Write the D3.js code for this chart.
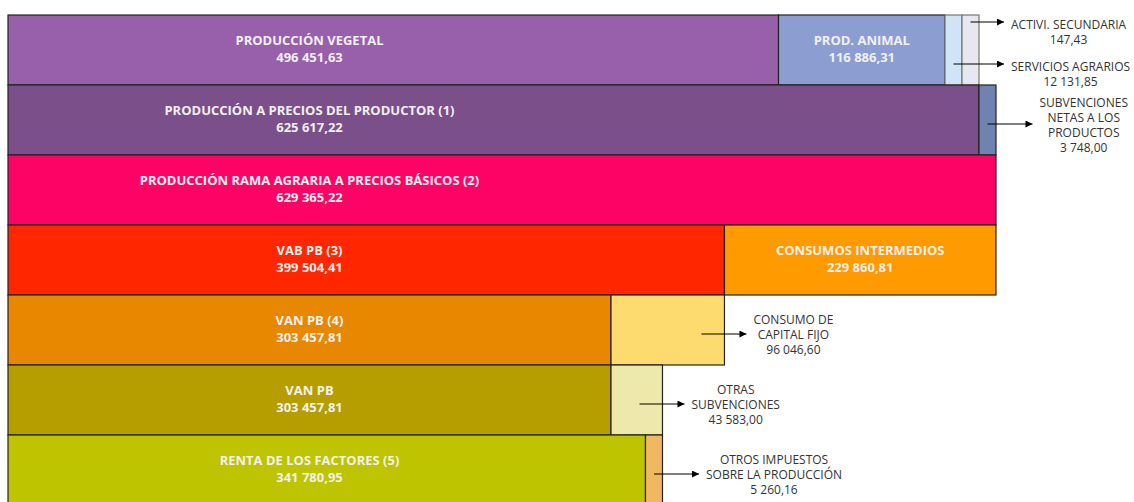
<!DOCTYPE html>
<html>
<head>
<meta charset="utf-8">
<script src="https://cdn.jsdelivr.net/npm/d3@7"></script>
<style>
  body { margin: 0; background: #fff; }
  svg { display: block; font-family: "Open Sans", "Noto Sans", sans-serif; }
</style>
</head>
<body>
<svg width="1134" height="502"></svg>
<script>
// one row per level of the account, segments left to right
const segNames = [
  ["PRODUCCIÓN VEGETAL", "PROD. ANIMAL", "SERVICIOS AGRARIOS", "ACTIVI. SECUNDARIA"],
  ["PRODUCCIÓN A PRECIOS DEL PRODUCTOR (1)", "SUBVENCIONES\nNETAS A LOS\nPRODUCTOS"],
  ["PRODUCCIÓN RAMA AGRARIA A PRECIOS BÁSICOS (2)"],
  ["VAB PB (3)", "CONSUMOS INTERMEDIOS"],
  ["VAN PB (4)", "CONSUMO DE\nCAPITAL FIJO"],
  ["VAN PB", "OTRAS\nSUBVENCIONES"],
  ["RENTA DE LOS FACTORES (5)", "OTROS IMPUESTOS\nSOBRE LA PRODUCCIÓN"]
];
const segValues = [
  [496451.63, 116886.31, 12131.85, 147.43],
  [625617.22, 3748.00],
  [629365.22],
  [399504.41, 229860.81],
  [303457.81, 96046.60],
  [303457.81, 43583.00],
  [341780.95, 5260.16]
];
const segColors = [
  ["#985faa", "#8c9dd1", "#cfe5f7", "#e7e7ef"],
  ["#7b4f8a", "#6f82b0"],
  ["#fe0366"],
  ["#ff2600", "#ff9a00"],
  ["#e88700", "#fedb6e"],
  ["#b69e00", "#ece9aa"],
  ["#bfc400", "#f0b961"]
];

const svg = d3.select("svg");
var left = 8, right = 996, top0 = 15, rowH = 70;
var minW = 17;       // smallest segment drawn
var AXIS_START = -207000;  // the bars are drawn on a truncated axis

const loc = d3.formatLocale({decimal: ",", thousands: " ", grouping: [3], currency: ["", ""]});
const fmt = loc.format(",.2f");

var x = d3.scaleLinear()
  .domain([AXIS_START, d3.max(segValues, r => d3.sum(r))])
  .range([left, right]);

// lay out the segments of a row, keeping small ones visible
function layout(vals, scale) {
  var edges = [left];
  var cum = 0;
  vals.forEach(v => { cum += v; edges.push(scale(cum)); });
  var segs = vals.map((v, i) => ({x0: edges[i], x1: edges[i + 1]}));
  for (var i = segs.length - 1; i > 0; i--) {
    if (segs[i].x1 - segs[i].x0 < minW) segs[i].x0 = segs[i].x1 - minW;
    segs[i - 1].x1 = segs[i].x0;
  }
  return segs;
}

var rows = segValues.map(vals => layout(vals, x));
// first row breaks down the producción of the second row on its own scale
var xTop = d3.scaleLinear()
  .domain([0, d3.sum(segValues[0])])
  .range([left, rows[1][0].x1]);
rows[0] = layout(segValues[0], xTop);

var mainCenter = (left + x(d3.min(segValues.slice(1), r => r[0]))) / 2;

svg.append("defs").append("marker")
  .attr("id", "arrow")
  .attr("viewBox", "0 0 10 10")
  .attr("refX", 10).attr("refY", 5)
  .attr("markerWidth", 8).attr("markerHeight", 7)
  .attr("markerUnits", "userSpaceOnUse")
  .attr("orient", "auto")
  .append("path")
  .attr("d", "M0,0L10,5L0,10Z")
  .attr("fill", "#000");

rows.forEach((segs, r) => {
  var y0 = top0 + r * rowH;
  var g = svg.append("g");

  g.selectAll("rect")
    .data(segs)
    .join("rect")
    .attr("x", d => d.x0)
    .attr("y", y0)
    .attr("width", d => d.x1 - d.x0)
    .attr("height", rowH)
    .attr("fill", (d, i) => segColors[r][i])
    .attr("stroke", (d, i) => r == 0 && i > 1 ? "#777" : "#222")
    .attr("stroke-width", 1.2);

  var callouts = [];
  segs.forEach((d, i) => {
    var name = segNames[r][i];
    var val = fmt(segValues[r][i]);
    if (i == 0 || d.x1 - d.x0 > 150) {
      var cx = i == 0 ? mainCenter : (d.x0 + d.x1) / 2;
      var t = g.append("text")
        .attr("text-anchor", "middle")
        .attr("fill", "#f0f0f0")
        .attr("font-weight", "bold")
        .attr("font-size", "13px");
      t.append("tspan").attr("x", cx).attr("y", y0 + rowH / 2 - 5).text(name);
      t.append("tspan").attr("x", cx).attr("y", y0 + rowH / 2 + 12).text(val);
    } else {
      callouts.push({seg: d, lines: name.split("\n").concat([val])});
    }
  });

  var rowRight = segs[segs.length - 1].x1;
  callouts.reverse().forEach((c, j) => {
    var d = c.seg;
    var multi = callouts.length > 1;
    var ay = multi ? y0 + 7 + j * 42 : y0 + rowH / 2 + 4;
    var sx = Math.max((d.x0 + d.x1) / 2, d.x1 - 23);
    var tip = multi ? rowRight + 25 : sx + 45;
    g.append("line")
      .attr("x1", sx).attr("x2", tip)
      .attr("y1", ay).attr("y2", ay)
      .attr("stroke", "#000")
      .attr("stroke-width", 1.2)
      .attr("marker-end", "url(#arrow)");

    var lh = 15;
    var firstY = multi ? ay + 2 : ay - (c.lines.length - 1) * lh / 2;
    var t = g.append("text")
      .attr("text-anchor", "middle")
      .attr("dominant-baseline", "central")
      .attr("fill", "#333")
      .attr("font-size", "12px");
    var spans = t.selectAll("tspan")
      .data(c.lines)
      .join("tspan")
      .attr("y", (l, k) => firstY + k * lh)
      .text(l => l);
    var w = d3.max(spans.nodes(), n => n.getComputedTextLength());
    spans.attr("x", Math.min(tip + 7 + w / 2, 1131 - w / 2));
  });
});
</script>
</body>
</html>
